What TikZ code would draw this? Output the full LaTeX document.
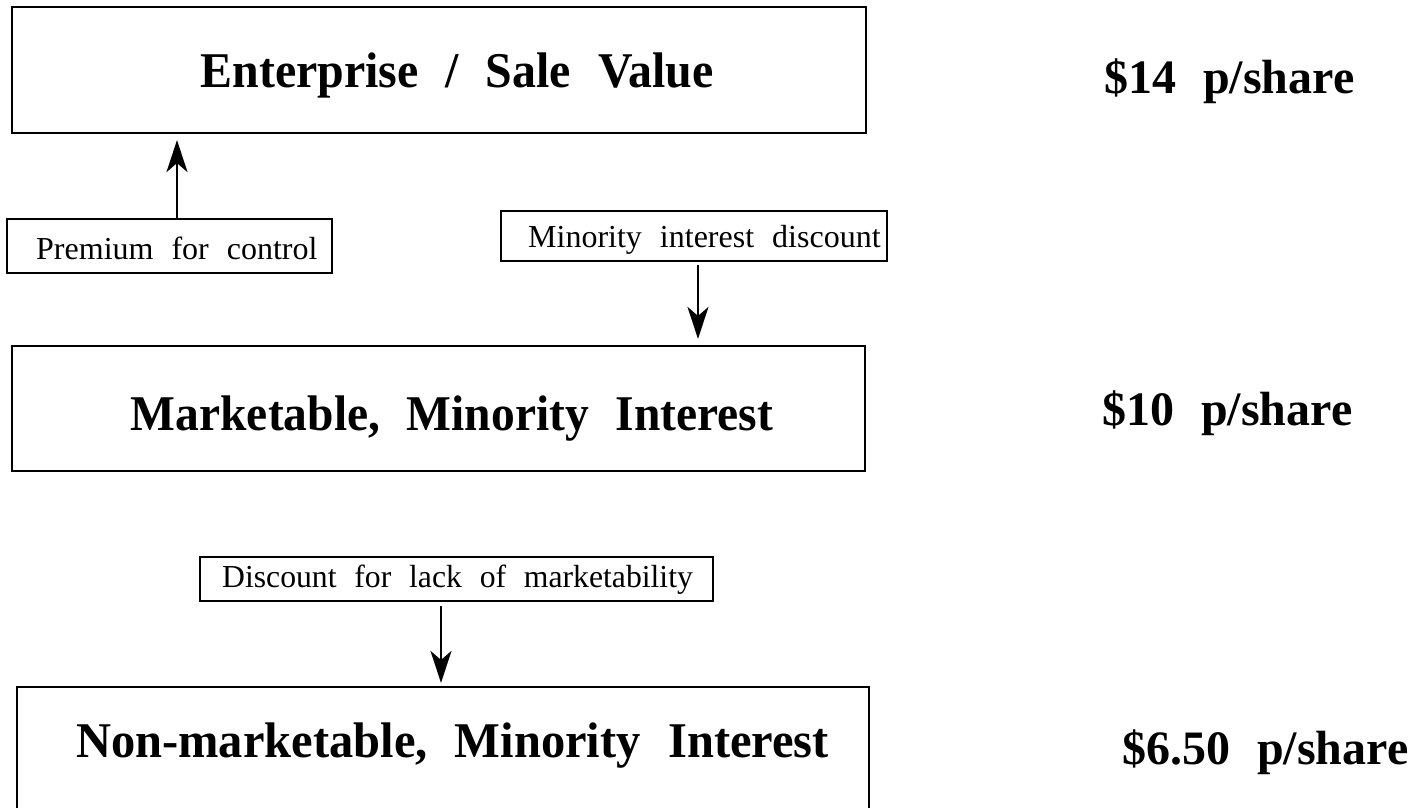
\documentclass[tikz,border=0pt]{standalone}
\usepackage{fontspec}
\usepackage{graphicx}
\setmainfont{Liberation Serif}[WordSpace=2.25]
\usetikzlibrary{arrows.meta}
\tikzset{
  bigbox/.style={draw, line width=2.2pt, rectangle, inner sep=0pt},
  smallbox/.style={draw, line width=2pt, rectangle, inner sep=0pt},
  bigtext/.style={inner sep=0pt, anchor=base, font=\fontsize{50}{60}\selectfont\bfseries},
  smalltext/.style={inner sep=0pt, anchor=base west, font=\fontsize{32}{38}\selectfont},
  pricetext/.style={inner sep=0pt, anchor=base west, font=\fontsize{48}{58}\selectfont\bfseries},
  arr/.style={line width=2.2pt, -{Stealth[length=32pt, width=21pt, inset=9pt]}}
}
\begin{document}
\begin{tikzpicture}[x=1pt, y=-1pt]
\useasboundingbox (0,0) rectangle (1416,808);
\clip (0,0) rectangle (1416,808);
% main boxes
\node[bigbox, minimum width=854pt, minimum height=126pt] (ent) at (439,70) {};
\node[bigbox, minimum width=853pt, minimum height=125pt] (mkt) at (438.5,408.5) {};
\node[bigbox, minimum width=852pt, minimum height=143pt] (non) at (443,758.5) {};
% box texts
\node[bigtext] (entT) at (457,88) {\scalebox{0.958}[1]{Enterprise / Sale Value}};
\node[bigtext] (mktT) at (452,430) {\scalebox{0.95}[1]{Marketable, Minority Interest}};
\node[bigtext] (nonT) at (452.5,757) {\scalebox{0.97}[1]{Non-marketable, Minority Interest}};
% adjustment boxes
\node[smallbox, minimum width=325pt, minimum height=54pt] (prem) at (169.5,246) {};
\node[smalltext] (premT) at (36,259) {Premium for control};
\node[smallbox, minimum width=386pt, minimum height=50pt] (mino) at (694,236) {};
\node[smalltext] (minoT) at (528,247) {Minority interest discount};
\node[smallbox, minimum width=513pt, minimum height=44pt] (dlom) at (456.5,579) {};
\node[smalltext] (dlomT) at (222,587) {\scalebox{0.99}[1]{Discount for lack of marketability}};
% prices
\node[pricetext] (p1) at (1104,93) {\$14 p/share};
\node[pricetext] (p2) at (1102,425) {\$10 p/share};
\node[pricetext] (p3) at (1122,764) {\$6.50 p/share};
% arrows
\coordinate (ax1) at (177,0);
\coordinate (ax2) at (698,0);
\coordinate (ax3) at (441,0);
\draw[arr, shorten >=6pt] (prem.north -| ax1) -- (ent.south -| ax1);
\draw[arr, shorten <=3pt, shorten >=6pt] (mino.south -| ax2) -- (mkt.north -| ax2);
\draw[arr, shorten <=4pt, shorten >=3pt] (dlom.south -| ax3) -- (non.north -| ax3);
\end{tikzpicture}
\end{document}
